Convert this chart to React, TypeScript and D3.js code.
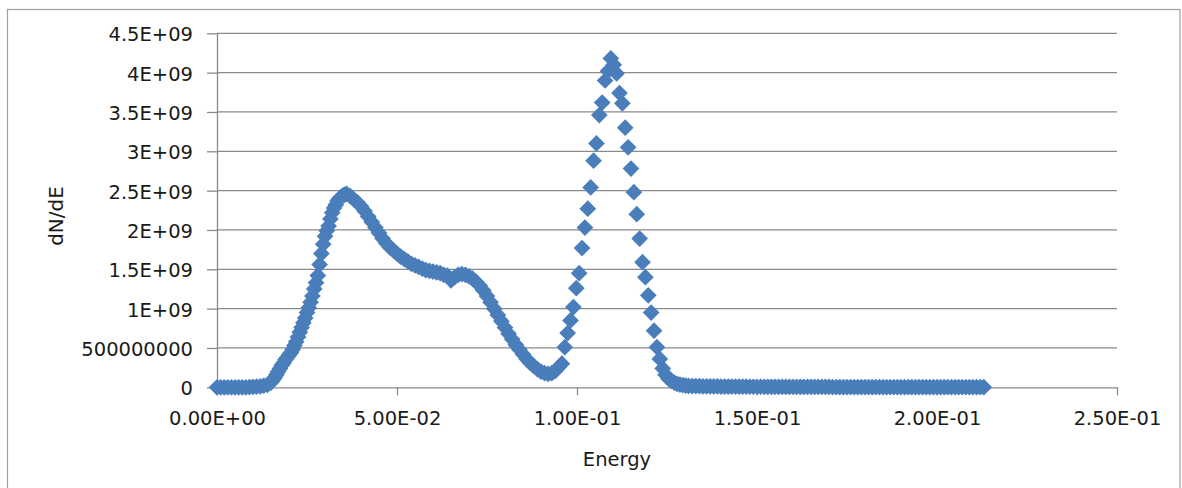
import { useEffect, useRef } from "react";
import * as d3 from "d3";

// dN/dE values are in units of 1E+09
const lowEnergy = [
  0, 0.001, 0.002, 0.003, 0.004, 0.005, 0.006, 0.007, 0.008, 0.009,
  0.01, 0.011, 0.012, 0.013, 0.014,
  0.015, 0.0155, 0.016, 0.0165, 0.017, 0.0175, 0.018, 0.0185, 0.019, 0.0195,
  0.02, 0.0205, 0.021, 0.0215, 0.022, 0.0225, 0.023, 0.0235, 0.024, 0.0245,
  0.025, 0.0255, 0.026, 0.0265, 0.027, 0.0275, 0.028, 0.0285, 0.029, 0.0295,
  0.03, 0.0305, 0.031, 0.0315, 0.032, 0.0325, 0.033, 0.0335, 0.034, 0.0345,
  0.035, 0.0355, 0.036, 0.037, 0.038, 0.039, 0.04, 0.041, 0.042, 0.043, 0.044,
  0.045, 0.046, 0.047, 0.048, 0.049, 0.05, 0.051, 0.052, 0.053, 0.054,
  0.055, 0.056, 0.057, 0.058, 0.059, 0.06, 0.061, 0.062, 0.063, 0.064,
  0.065, 0.066, 0.067, 0.068, 0.069, 0.07, 0.071, 0.072, 0.073, 0.074,
  0.075, 0.076, 0.077, 0.078, 0.079, 0.08, 0.081, 0.082, 0.083, 0.084,
  0.085, 0.086, 0.087, 0.088, 0.089, 0.09, 0.091, 0.092, 0.093, 0.094,
  0.095,
];
const lowCounts = [
  0, 0, 0, 0, 0, 0, 0, 0, 0, 0.003,
  0.005, 0.008, 0.012, 0.02, 0.03,
  0.06, 0.09, 0.12, 0.16, 0.2, 0.24, 0.28, 0.31, 0.35, 0.38,
  0.41, 0.44, 0.48, 0.53, 0.58, 0.64, 0.7, 0.76, 0.82, 0.88,
  0.95, 1.01, 1.08, 1.16, 1.25, 1.33, 1.42, 1.56, 1.7, 1.82,
  1.92, 1.99, 2.05, 2.14, 2.22, 2.28, 2.32, 2.37, 2.4, 2.42,
  2.44, 2.45, 2.46, 2.43, 2.39, 2.35, 2.3, 2.24, 2.17, 2.1, 2.03,
  1.96, 1.89, 1.83, 1.78, 1.74, 1.7, 1.66, 1.63, 1.6, 1.57,
  1.55, 1.53, 1.51, 1.49, 1.48, 1.47, 1.46, 1.45, 1.43, 1.42,
  1.36, 1.4, 1.43, 1.44, 1.43, 1.41, 1.38, 1.34, 1.29, 1.23,
  1.16, 1.08, 1.0, 0.92, 0.84, 0.76, 0.68, 0.61, 0.54, 0.48,
  0.42, 0.36, 0.31, 0.27, 0.23, 0.2, 0.18, 0.17, 0.18, 0.21,
  0.26,
];

const peakEnergy = [
  0.0958, 0.0966, 0.0974, 0.0982, 0.099, 0.0998, 0.1006, 0.1014, 0.1022, 0.103,
  0.1038, 0.1046, 0.1054, 0.1062, 0.107, 0.1078, 0.1086, 0.1094, 0.1102, 0.111,
  0.1118, 0.1126, 0.1134, 0.1142, 0.115, 0.1158, 0.1166, 0.1174, 0.1182, 0.119,
  0.1198, 0.1206, 0.1214, 0.1222, 0.123, 0.1238, 0.1246, 0.1254, 0.1262, 0.127,
  0.1278, 0.1286, 0.1294, 0.1302,
];
const peakCounts = [
  0.3, 0.51, 0.69, 0.85, 1.02, 1.26, 1.45, 1.77, 2.03, 2.27,
  2.54, 2.88, 3.1, 3.46, 3.62, 3.9, 4.02, 4.18, 4.1, 3.99,
  3.74, 3.61, 3.3, 3.05, 2.78, 2.48, 2.2, 1.89, 1.59, 1.4,
  1.17, 0.95, 0.72, 0.51, 0.36, 0.24, 0.16, 0.11, 0.08, 0.06,
  0.045, 0.035, 0.028, 0.022,
];

const tailEnergy = [
  0.131, 0.132, 0.133, 0.134, 0.135, 0.136, 0.137, 0.138, 0.139, 0.14,
  0.141, 0.142, 0.143, 0.144, 0.145, 0.146, 0.147, 0.148, 0.149, 0.15,
  0.151, 0.152, 0.153, 0.154, 0.155, 0.156, 0.157, 0.158, 0.159, 0.16,
  0.161, 0.162, 0.163, 0.164, 0.165, 0.166, 0.167, 0.168, 0.169, 0.17,
  0.171, 0.172, 0.173, 0.174, 0.175, 0.176, 0.177, 0.178, 0.179, 0.18,
  0.181, 0.182, 0.183, 0.184, 0.185, 0.186, 0.187, 0.188, 0.189, 0.19,
  0.191, 0.192, 0.193, 0.194, 0.195, 0.196, 0.197, 0.198, 0.199, 0.2,
  0.201, 0.202, 0.203, 0.204, 0.205, 0.206, 0.207, 0.208, 0.209, 0.21,
  0.211, 0.212, 0.213,
];
const tailCounts = [
  0.018, 0.016, 0.015, 0.014, 0.013, 0.012, 0.012, 0.011, 0.011, 0.01,
  0.01, 0.009, 0.009, 0.009, 0.008, 0.008, 0.008, 0.007, 0.007, 0.007,
  0.007, 0.006, 0.006, 0.006, 0.006, 0.006, 0.005, 0.005, 0.005, 0.005,
  0.005, 0.005, 0.004, 0.004, 0.004, 0.004, 0.004, 0.004, 0.004, 0.004,
  0.003, 0.003, 0.003, 0.003, 0.003, 0.003, 0.003, 0.003, 0.003, 0.003,
  0.003, 0.003, 0.003, 0.003, 0.003, 0.002, 0.002, 0.002, 0.002, 0.002,
  0.002, 0.002, 0.002, 0.002, 0.002, 0.002, 0.002, 0.002, 0.002, 0.002,
  0.002, 0.002, 0.002, 0.001, 0.001, 0.001, 0.001, 0.001, 0.001, 0.001,
  0.001, 0.001, 0.001,
];

const xTicks = [0, 0.05, 0.1, 0.15, 0.2, 0.25];
const xTickLabels = ["0.00E+00", "5.00E-02", "1.00E-01", "1.50E-01", "2.00E-01", "2.50E-01"];
const yTicks = [0, 0.5, 1, 1.5, 2, 2.5, 3, 3.5, 4, 4.5];
const yTickLabels = [
  "0", "500000000", "1E+09", "1.5E+09", "2E+09",
  "2.5E+09", "3E+09", "3.5E+09", "4E+09", "4.5E+09",
];

const FONT = "'DejaVu Sans', Verdana, sans-serif";
const GRID = "#8a8a8a";
const BLUE = "#4a7ebb";

export default function App() {
  const svgRef = useRef<SVGSVGElement | null>(null);

  useEffect(() => {
    const svg = d3.select(svgRef.current);
    svg.selectAll("*").remove();

    const x = d3.scaleLinear().domain([0, 0.25]).range([217, 1117]);
    const y = d3.scaleLinear().domain([0, 4.5]).range([387.3, 33.3]);

    // chart frame
    svg
      .append("rect")
      .attr("x", 7.5)
      .attr("y", 9.5)
      .attr("width", 1172.5)
      .attr("height", 500)
      .attr("fill", "#fff")
      .attr("stroke", "#a0a0a0")
      .attr("stroke-width", 1.2);

    // horizontal gridlines
    svg
      .append("g")
      .selectAll("line")
      .data(yTicks.slice(1))
      .join("line")
      .attr("x1", 217)
      .attr("x2", 1117)
      .attr("y1", (d) => y(d))
      .attr("y2", (d) => y(d))
      .attr("stroke", GRID)
      .attr("stroke-width", 1.3);

    // y axis
    const yAxis = d3
      .axisLeft(y)
      .tickValues(yTicks)
      .tickFormat((_, i) => yTickLabels[i])
      .tickSize(10)
      .tickSizeOuter(0)
      .tickPadding(14);
    const gy = svg.append("g").attr("transform", "translate(217,0)").call(yAxis);

    // x axis
    const xAxis = d3
      .axisBottom(x)
      .tickValues(xTicks)
      .tickFormat((_, i) => xTickLabels[i])
      .tickSize(8)
      .tickSizeOuter(0)
      .tickPadding(16);
    const gx = svg.append("g").attr("transform", "translate(0,387.3)").call(xAxis);

    [gx, gy].forEach((g) => {
      g.selectAll("path, line").attr("stroke", GRID).attr("stroke-width", 1.3);
      g.selectAll("text")
        .attr("fill", "#1a1a1a")
        .style("font-family", FONT)
        .style("font-size", "19.5px");
    });
    gy.selectAll("text").attr("dy", "0.38em");

    // axis titles
    svg
      .append("text")
      .attr("x", 617)
      .attr("y", 466)
      .attr("text-anchor", "middle")
      .attr("fill", "#1a1a1a")
      .style("font-family", FONT)
      .style("font-size", "19.5px")
      .text("Energy");

    svg
      .append("text")
      .attr("transform", "translate(63,216) rotate(-90)")
      .attr("text-anchor", "middle")
      .attr("fill", "#1a1a1a")
      .style("font-family", FONT)
      .style("font-size", "20px")
      .text("dN/dE");

    // series markers (diamonds)
    const points: [number, number][] = [
      ...lowEnergy.map((e, i) => [e, lowCounts[i]] as [number, number]),
      ...peakEnergy.map((e, i) => [e, peakCounts[i]] as [number, number]),
      ...tailEnergy.map((e, i) => [e, tailCounts[i]] as [number, number]),
    ];
    const diamond = d3.symbol(d3.symbolSquare, 140)();
    svg
      .append("g")
      .selectAll("path")
      .data(points)
      .join("path")
      .attr("d", diamond)
      .attr("transform", (d) => `translate(${x(d[0])},${y(d[1])}) rotate(45)`)
      .attr("fill", BLUE);
  }, []);

  return (
    <svg
      ref={svgRef}
      width={1182}
      height={488}
      style={{ position: "absolute", left: 0, top: 0, background: "#fff" }}
    />
  );
}
